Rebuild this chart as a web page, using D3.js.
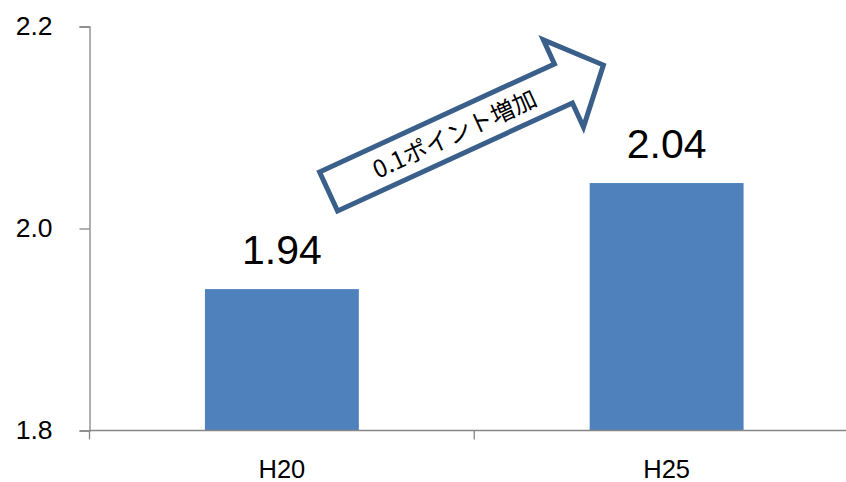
<!DOCTYPE html>
<html><head><meta charset="utf-8">
<script src="https://cdn.jsdelivr.net/npm/d3@7"></script>
<style>html,body{margin:0;padding:0;background:#fff;}svg{display:block;}</style>
</head><body>
<svg id="chart" width="846" height="482"></svg>
<script>
// ---- data ----
const categories = ["H20", "H25"];
const values = [1.94, 2.045];
const valueLabels = ["1.94", "2.04"];
const yTicks = [1.8, 2.0, 2.2];
const yTickLabels = ["1.8", "2.0", "2.2"];
const arrowText = "0.1ポイント増加";

(function () {
const svg = d3.select("#chart");
const pL = 89.5, pR = 859, pT = 26.5, pB = 430.5;
const axisColor = "#868686";
const barColor = "#4f81bd";
const latin = "'Liberation Sans', Arial, sans-serif";

const y = d3.scaleLinear().domain([1.8, 2.2]).range([pB, pT]);
const xAxisScale = d3.scaleBand().domain(categories).range([pL, pR]).padding(0);
const xBar = d3.scaleBand().domain(categories).range([pL, pR]).paddingInner(0.6).paddingOuter(0.3);

// bars
svg.append("g").selectAll("rect").data(categories).join("rect")
  .attr("x", d => xBar(d))
  .attr("width", xBar.bandwidth())
  .attr("y", (d, i) => y(values[i]))
  .attr("height", (d, i) => pB - y(values[i]))
  .attr("fill", barColor);

// y axis
const yAxis = d3.axisLeft(y).tickValues(yTicks)
  .tickFormat((d, i) => yTickLabels[i]).tickSize(10).tickPadding(27);
const gy = svg.append("g").attr("transform", `translate(${pL},0)`).call(yAxis);
gy.select(".domain").attr("stroke", axisColor).attr("stroke-width", 1.3);
gy.selectAll(".tick line").attr("stroke", axisColor).attr("stroke-width", 1.3);
gy.selectAll(".tick text").attr("font-family", latin).attr("font-size", 26.5)
  .attr("fill", "#000").attr("dy", "0.29em");

// x axis
const xAxis = d3.axisBottom(xAxisScale).tickSize(0).tickPadding(0).tickFormat(() => "");
const gx = svg.append("g").attr("transform", `translate(0,${pB})`).call(xAxis);
gx.select(".domain").attr("stroke", axisColor).attr("stroke-width", 1.3).attr("d", `M${pL},0H${pR}`);
gx.selectAll(".tick").remove();
const bounds = categories.map(c => xAxisScale(c)).concat([pR]);
gx.selectAll("line.b").data(bounds).join("line").attr("class", "b")
  .attr("x1", d => d).attr("x2", d => d).attr("y1", 0).attr("y2", 9)
  .attr("stroke", axisColor).attr("stroke-width", 1.3);
svg.append("g").selectAll("text").data(categories).join("text")
  .attr("x", d => xAxisScale(d) + xAxisScale.bandwidth() / 2)
  .attr("y", 478)
  .attr("text-anchor", "middle")
  .attr("font-family", latin).attr("font-size", 25.5).attr("fill", "#000")
  .text(d => d);

// value labels
svg.append("g").selectAll("text").data(categories).join("text")
  .attr("x", d => xBar(d) + xBar.bandwidth() / 2)
  .attr("y", (d, i) => y(values[i]) - 25)
  .attr("text-anchor", "middle")
  .attr("font-family", latin).attr("font-size", 41).attr("fill", "#000")
  .text((d, i) => valueLabels[i]);

// block arrow annotation
const ang = -24.7;
const ox = 326.3, oy = 192.5;
const sw = 21.5, hw = 48, tail = 2.5, neck = 261, tip = 305;
const pts = [[tail, -sw], [neck, -sw], [neck, -hw], [tip, 0], [neck, hw], [neck, sw], [tail, sw]];
const ga = svg.append("g").attr("transform", `translate(${ox},${oy}) rotate(${ang})`);
ga.append("path")
  .attr("d", d3.line()(pts) + "Z")
  .attr("fill", "#fff").attr("stroke", "#3a5f8b").attr("stroke-width", 5)
  .attr("stroke-linejoin", "miter");
ga.append("text")
  .attr("x", 141).attr("y", 0).attr("dy", "0.38em")
  .attr("text-anchor", "middle")
  .attr("font-family", "'Noto Sans CJK JP', sans-serif").attr("font-size", 24).attr("fill", "#000")
  .text(arrowText);
})();
</script>
</body></html>
